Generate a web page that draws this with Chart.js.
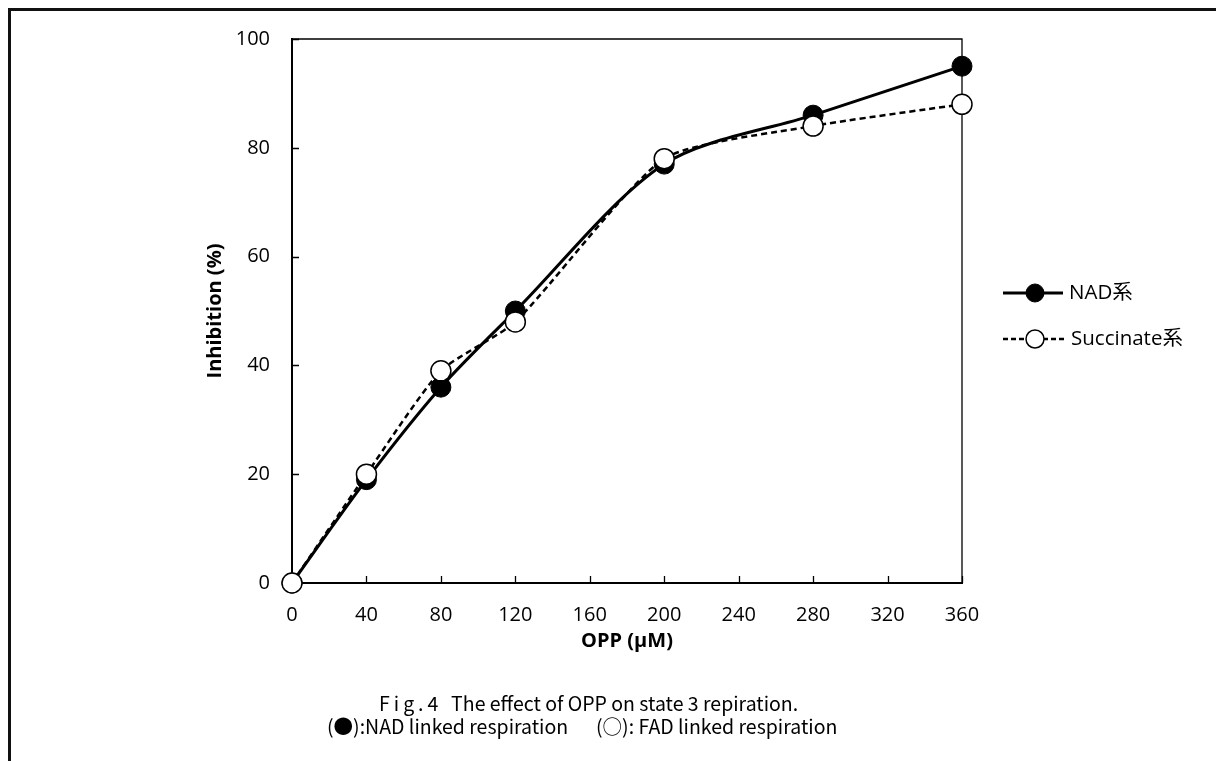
<!DOCTYPE html>
<html>
<head>
<meta charset="utf-8">
<script src="https://cdn.jsdelivr.net/npm/chart.js@4/dist/chart.umd.min.js"></script>
<style>
  html, body { margin: 0; padding: 0; background: #fff; }
  body { width: 1216px; height: 761px; position: relative; overflow: hidden; }
  #frame { position: absolute; left: 8px; top: 8px; width: 1300px; height: 900px;
           border-top: 3px solid #111; border-left: 3px solid #111; }
  #chart { position: absolute; left: 0; top: 0; }
  .cap { position: absolute; font-family: "Noto Sans CJK JP", sans-serif; font-size: 19.5px;
         color: #000; white-space: pre; line-height: 20px; }
  .fig { letter-spacing: 4px; }
</style>
</head>
<body>
<div id="frame"></div>
<canvas id="chart" width="1216" height="761"></canvas>
<div class="cap" style="left:379px; top:693px;"><span class="fig">Fig.4</span>  The effect of OPP on state 3 repiration.</div>
<div class="cap" style="left:327px; top:716px;">(●):NAD linked respiration</div>
<div class="cap" style="left:596px; top:716px;">(○): FAD linked respiration</div>
<script>
// Data
const oppDose = [0, 40, 80, 120, 200, 280, 360];
const nadInhibition = [0, 19, 36, 50, 77, 86, 95];
const succinateInhibition = [0, 20, 39, 48, 78, 84, 88];
const xTicks = [0, 40, 80, 120, 160, 200, 240, 280, 320, 360];
const yTicks = [0, 20, 40, 60, 80, 100];

const seriesNames = ['NAD系', 'Succinate系'];

function toPoints(xs, ys) {
    return xs.map((x, i) => ({ x: x, y: ys[i] }));
}

// box lines on top/right, inner tick marks and the legend on the right
const framePlugin = {
    id: 'framePlugin',
    beforeDatasetsDraw(chart) {
        const ctx = chart.ctx;
        const a = chart.chartArea;
        const xs = chart.scales.x, ys = chart.scales.y;
        ctx.save();
        ctx.strokeStyle = '#000';
        ctx.lineWidth = 1.3;
        ctx.beginPath();
        ctx.moveTo(a.left, a.top);
        ctx.lineTo(a.right, a.top);
        ctx.lineTo(a.right, a.bottom);
        ctx.stroke();
        // inside ticks
        ctx.beginPath();
        yTicks.forEach(v => {
            const py = Math.round(ys.getPixelForValue(v)) + 0.5;
            ctx.moveTo(a.left, py);
            ctx.lineTo(a.left + 7, py);
        });
        xTicks.forEach(v => {
            const px = Math.round(xs.getPixelForValue(v)) + 0.5;
            ctx.moveTo(px, a.bottom);
            ctx.lineTo(px, a.bottom - 7);
        });
        ctx.stroke();
        ctx.restore();
    },
    afterDraw(chart) {
        const ctx = chart.ctx;
        const rows = [
            { ds: chart.data.datasets[1], y: 293, x0: 1003, x1: 1063, tx: 1069, dash: [] },
            { ds: chart.data.datasets[0], y: 339, x0: 1003, x1: 1066, tx: 1071, dash: [5, 3] }
        ];
        ctx.save();
        rows.forEach(r => {
            const ds = r.ds;
            ctx.strokeStyle = ds.borderColor;
            ctx.lineWidth = ds.borderWidth;
            ctx.setLineDash(r.dash);
            ctx.beginPath();
            ctx.moveTo(r.x0, r.y);
            ctx.lineTo(r.x1, r.y);
            ctx.stroke();
            ctx.setLineDash([]);
            ctx.beginPath();
            ctx.arc(1035, r.y, 9, 0, Math.PI * 2);
            ctx.fillStyle = ds.pointBackgroundColor;
            ctx.fill();
            ctx.lineWidth = ds.pointBorderWidth;
            ctx.strokeStyle = ds.pointBorderColor;
            ctx.stroke();
            ctx.fillStyle = '#000';
            ctx.font = '20.5px "Open Sans", "Noto Sans CJK JP", sans-serif';
            ctx.textBaseline = 'middle';
            ctx.fillText(ds.label, r.tx, r.y);
        });
        ctx.restore();
    }
};

const ctx = document.getElementById('chart').getContext('2d');

const chart = new Chart(ctx, {
    type: 'line',
    data: {
        datasets: [{
            label: seriesNames[1],
            data: toPoints(oppDose, succinateInhibition),
            borderColor: '#000',
            borderWidth: 2.5,
            borderDash: [6, 4],
            tension: 0.2,
            pointRadius: 10,
            pointBackgroundColor: '#fff',
            pointBorderColor: '#000',
            pointBorderWidth: 1.5,
            clip: false
        }, {
            label: seriesNames[0],
            data: toPoints(oppDose, nadInhibition),
            borderColor: '#000',
            borderWidth: 3,
            tension: 0.3,
            pointRadius: 10,
            pointBackgroundColor: '#000',
            pointBorderColor: '#000',
            pointBorderWidth: 1,
            clip: false
        }]
    },
    options: {
        responsive: false,
        animation: false,
        layout: { padding: { left: 0, top: 39, right: 254, bottom: 0 } },
        plugins: {
            legend: { display: false },
            tooltip: { enabled: false }
        },
        scales: {
            x: {
                type: 'linear',
                min: 0,
                max: 360,
                afterFit: (s) => { s.height = 178; },
                afterBuildTicks: (s) => { s.ticks = xTicks.map(v => ({ value: v })); },
                grid: { display: false, drawTicks: false },
                border: { display: true, color: '#000', width: 2 },
                ticks: {
                    color: '#000',
                    padding: 20,
                    maxRotation: 0,
                    font: { family: '"Open Sans"', size: 20 }
                },
                title: {
                    display: true,
                    text: 'OPP (μM)',
                    color: '#000',
                    font: { family: '"Open Sans"', size: 20, weight: 'bold' },
                    padding: { top: 0, bottom: 108 }
                }
            },
            y: {
                min: 0,
                max: 100,
                afterFit: (s) => { s.width = 292; },
                afterBuildTicks: (s) => { s.ticks = yTicks.map(v => ({ value: v })); },
                grid: { display: false, drawTicks: false },
                border: { display: true, color: '#000', width: 2 },
                ticks: {
                    color: '#000',
                    padding: 22,
                    font: { family: '"Open Sans"', size: 20 }
                },
                title: {
                    display: true,
                    text: 'Inhibition (%)',
                    color: '#000',
                    font: { family: '"Open Sans"', size: 20, weight: 'bold' },
                    padding: { top: 203, bottom: 0 }
                }
            }
        }
    },
    plugins: [framePlugin]
});
</script>
</body>
</html>
